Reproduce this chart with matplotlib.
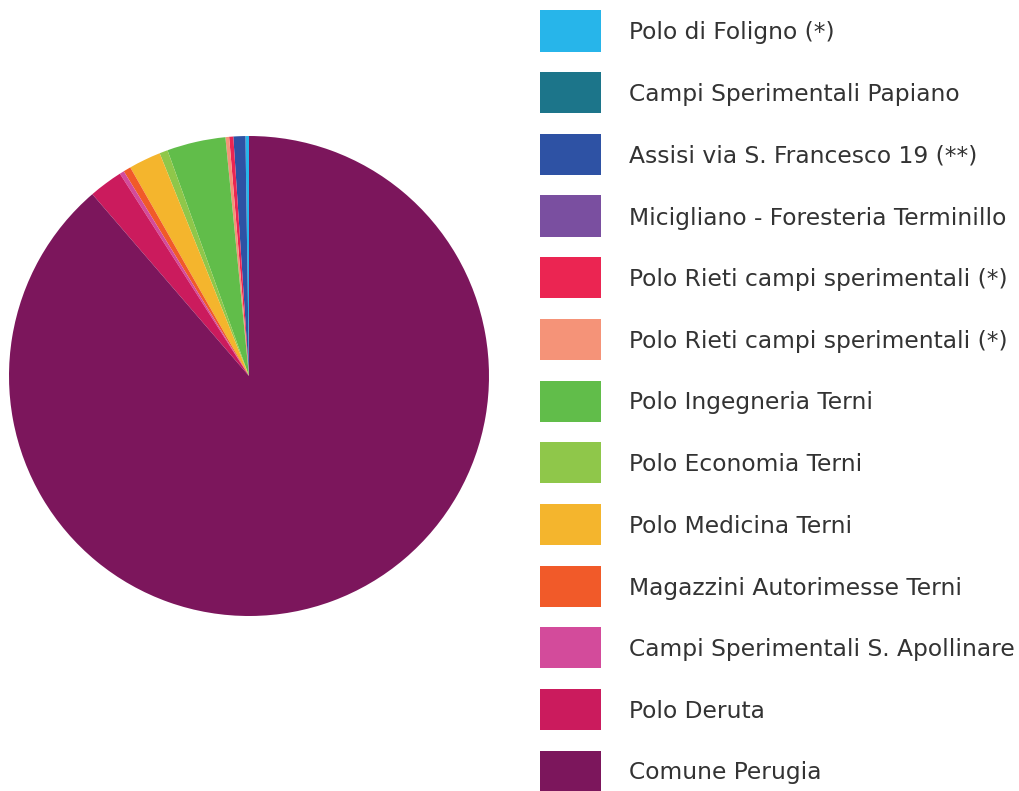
import matplotlib
matplotlib.use("Agg")
import matplotlib.pyplot as plt
from matplotlib.patches import Rectangle

labels = [
    "Polo di Foligno (*)",
    "Campi Sperimentali Papiano",
    "Assisi via S. Francesco 19 (**)",
    "Micigliano - Foresteria Terminillo",
    "Polo Rieti campi sperimentali (*)",
    "Polo Rieti campi sperimentali (*)",
    "Polo Ingegneria Terni",
    "Polo Economia Terni",
    "Polo Medicina Terni",
    "Magazzini Autorimesse Terni",
    "Campi Sperimentali S. Apollinare",
    "Polo Deruta",
    "Comune Perugia",
]
values = [0.85, 0.0, 2.9, 0.0, 1.0, 0.9, 14.2, 2.0, 7.8, 1.8, 1.1, 8.2, 319.2]
colors = ["#27b5ea", "#1c758a", "#2e52a4", "#7a4fa0", "#eb2552", "#f59378",
          "#61bd4a", "#8fc74a", "#f4b52d", "#f15a29", "#d34b9b", "#cb1b5d", "#7c165c"]

W, H = 1019, 791
fig = plt.figure(figsize=(W / 100, H / 100), dpi=100)

cx, cy, r = 249, 376, 240
ax = fig.add_axes([(cx - r) / W, (H - cy - r) / H, 2 * r / W, 2 * r / H])
ax.pie(values, colors=colors, startangle=90, counterclock=True, radius=1,
       wedgeprops=dict(linewidth=0))
ax.set_xlim(-1, 1)
ax.set_ylim(-1, 1)
ax.set_aspect("equal")
ax.axis("off")

y0, dy = 31, (771 - 31) / 12
for i, (lab, col) in enumerate(zip(labels, colors)):
    yc = y0 + i * dy
    fig.patches.append(Rectangle((540 / W, (H - yc - 20.5) / H), 61 / W, 41 / H,
                                 transform=fig.transFigure, facecolor=col,
                                 edgecolor="none"))
    fig.text(629 / W, (H - yc - 2) / H, lab, fontsize=16.85, family="DejaVu Sans",
             color="#333333", va="center", ha="left")

fig.savefig("out.png", dpi=100)
